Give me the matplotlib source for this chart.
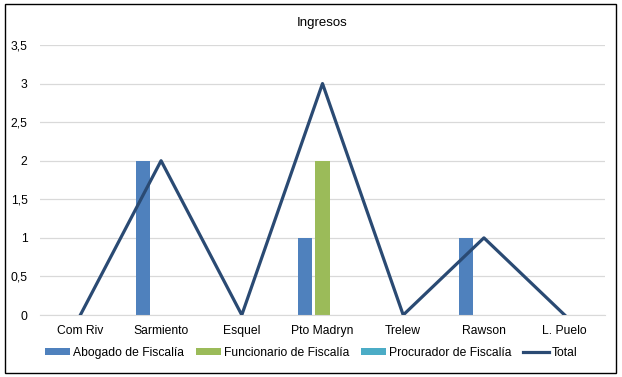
import numpy as np
import matplotlib.pyplot as plt
from matplotlib.ticker import FuncFormatter

# data
sedes = ["Com Riv", "Sarmiento", "Esquel", "Pto Madryn", "Trelew", "Rawson", "L. Puelo"]
abogado = [0, 2, 0, 1, 0, 1, 0]
funcionario = [0, 0, 0, 2, 0, 0, 0]
procurador = [0, 0, 0, 0, 0, 0, 0]
total = [0, 2, 0, 3, 0, 1, 0]

plt.rcParams['font.family'] = ['Liberation Sans', 'DejaVu Sans']

fig = plt.figure(figsize=(6.22, 3.77), dpi=100)
ax = fig.add_axes([40 / 622, 1 - 315 / 377, 565 / 622, 270 / 377])

x = np.arange(len(sedes))
w = 0.175
b1 = ax.bar(x - 0.22, abogado, w, color="#4F81BD", label="Abogado de Fiscalía", zorder=2)
b2 = ax.bar(x, funcionario, w, color="#9BBB59", label="Funcionario de Fiscalía", zorder=2)
b3 = ax.bar(x + 0.22, procurador, w, color="#4BACC6", label="Procurador de Fiscalía", zorder=2)
l1, = ax.plot(x, total, color="#2A4A73", lw=2.3, label="Total", zorder=3)

ax.set_xlim(-0.5, len(sedes) - 0.5)
ax.set_ylim(0, 3.5)
ax.set_yticks(np.arange(0, 3.51, 0.5))
ax.yaxis.set_major_formatter(FuncFormatter(lambda v, p: f"{v:g}".replace(".", ",")))
ax.set_xticks(x)
ax.set_xticklabels(sedes)
ax.grid(axis="y", color="#D9D9D9", lw=0.9, zorder=0)
for s in ["top", "right", "left"]:
    ax.spines[s].set_visible(False)
ax.spines["bottom"].set_color("#D9D9D9")
ax.tick_params(axis="both", length=0, labelsize=8.7, colors="#000000")
ax.tick_params(axis="x", pad=7)
ax.tick_params(axis="y", pad=9)

ax.set_title("Ingresos", fontsize=9.5, pad=14)

fig.legend([b1, b2, b3, l1], ["Abogado de Fiscalía", "Funcionario de Fiscalía",
                              "Procurador de Fiscalía", "Total"],
           loc="center", bbox_to_anchor=(0.5, 1 - 353 / 377), ncol=4, frameon=False,
           fontsize=8.7, handlelength=2.1, handleheight=0.45, handletextpad=0.25,
           columnspacing=0.95)

# outer frame
fig.patches.append(plt.Rectangle((5 / 622, 4 / 377), 611 / 622, 369 / 377, fill=False,
                                 edgecolor="black", lw=1, transform=fig.transFigure))

fig.savefig("out.png", dpi=100)
